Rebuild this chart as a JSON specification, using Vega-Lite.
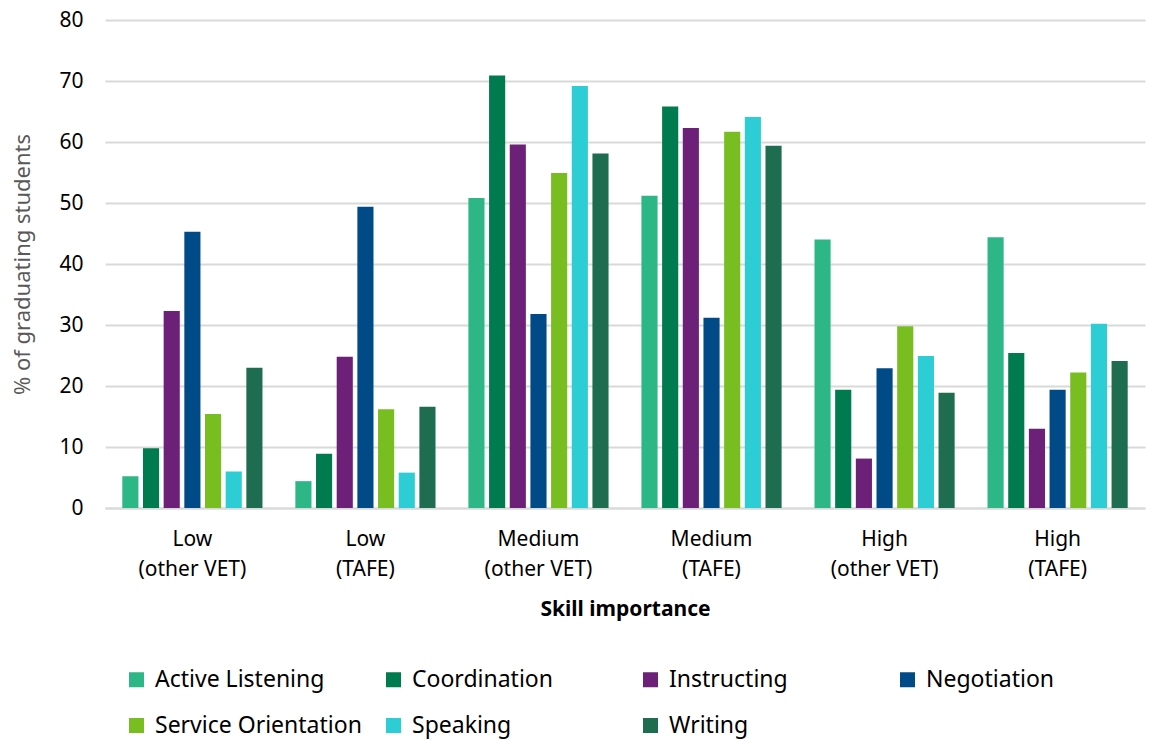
{
  "$schema": "https://vega.github.io/schema/vega-lite/v6.json",
  "width": 1040,
  "height": 488,
  "autosize": {"type": "none"},
  "padding": {"left": 105, "top": 20, "right": 4, "bottom": 232},
  "background": "white",
  "config": {
    "font": "Noto Sans",
    "view": {"stroke": null}
  },
  "data": {
    "values": [
      {"group": "Low|(other VET)", "skill": "Active Listening", "value": 5.2},
      {"group": "Low|(other VET)", "skill": "Coordination", "value": 9.8},
      {"group": "Low|(other VET)", "skill": "Instructing", "value": 32.3},
      {"group": "Low|(other VET)", "skill": "Negotiation", "value": 45.3},
      {"group": "Low|(other VET)", "skill": "Service Orientation", "value": 15.4},
      {"group": "Low|(other VET)", "skill": "Speaking", "value": 6.0},
      {"group": "Low|(other VET)", "skill": "Writing", "value": 23.0},
      {"group": "Low|(TAFE)", "skill": "Active Listening", "value": 4.4},
      {"group": "Low|(TAFE)", "skill": "Coordination", "value": 8.9},
      {"group": "Low|(TAFE)", "skill": "Instructing", "value": 24.8},
      {"group": "Low|(TAFE)", "skill": "Negotiation", "value": 49.4},
      {"group": "Low|(TAFE)", "skill": "Service Orientation", "value": 16.2},
      {"group": "Low|(TAFE)", "skill": "Speaking", "value": 5.8},
      {"group": "Low|(TAFE)", "skill": "Writing", "value": 16.6},
      {"group": "Medium|(other VET)", "skill": "Active Listening", "value": 50.8},
      {"group": "Medium|(other VET)", "skill": "Coordination", "value": 70.9},
      {"group": "Medium|(other VET)", "skill": "Instructing", "value": 59.6},
      {"group": "Medium|(other VET)", "skill": "Negotiation", "value": 31.8},
      {"group": "Medium|(other VET)", "skill": "Service Orientation", "value": 54.9},
      {"group": "Medium|(other VET)", "skill": "Speaking", "value": 69.2},
      {"group": "Medium|(other VET)", "skill": "Writing", "value": 58.1},
      {"group": "Medium|(TAFE)", "skill": "Active Listening", "value": 51.2},
      {"group": "Medium|(TAFE)", "skill": "Coordination", "value": 65.8},
      {"group": "Medium|(TAFE)", "skill": "Instructing", "value": 62.3},
      {"group": "Medium|(TAFE)", "skill": "Negotiation", "value": 31.2},
      {"group": "Medium|(TAFE)", "skill": "Service Orientation", "value": 61.7},
      {"group": "Medium|(TAFE)", "skill": "Speaking", "value": 64.1},
      {"group": "Medium|(TAFE)", "skill": "Writing", "value": 59.4},
      {"group": "High|(other VET)", "skill": "Active Listening", "value": 44.0},
      {"group": "High|(other VET)", "skill": "Coordination", "value": 19.4},
      {"group": "High|(other VET)", "skill": "Instructing", "value": 8.1},
      {"group": "High|(other VET)", "skill": "Negotiation", "value": 22.9},
      {"group": "High|(other VET)", "skill": "Service Orientation", "value": 29.8},
      {"group": "High|(other VET)", "skill": "Speaking", "value": 24.9},
      {"group": "High|(other VET)", "skill": "Writing", "value": 18.9},
      {"group": "High|(TAFE)", "skill": "Active Listening", "value": 44.4},
      {"group": "High|(TAFE)", "skill": "Coordination", "value": 25.4},
      {"group": "High|(TAFE)", "skill": "Instructing", "value": 13.0},
      {"group": "High|(TAFE)", "skill": "Negotiation", "value": 19.4},
      {"group": "High|(TAFE)", "skill": "Service Orientation", "value": 22.2},
      {"group": "High|(TAFE)", "skill": "Speaking", "value": 30.2},
      {"group": "High|(TAFE)", "skill": "Writing", "value": 24.1}
    ]
  },
  "mark": {"type": "bar"},
  "encoding": {
    "x": {
      "field": "group",
      "type": "nominal",
      "sort": null,
      "scale": {"paddingInner": 0.19, "paddingOuter": 0.1},
      "axis": {
        "title": "Skill importance",
        "titleFontSize": 21,
        "titleFontWeight": "bold",
        "titleColor": "black",
        "titlePadding": 19,
        "labelAngle": 0,
        "labelExpr": "split(datum.label, '|')",
        "labelFontSize": 21,
        "labelColor": "black",
        "labelLineHeight": 30,
        "labelPadding": 20,
        "ticks": false,
        "domainColor": "#d9d9d9",
        "domainWidth": 2
      }
    },
    "xOffset": {
      "field": "skill",
      "type": "nominal",
      "scale": {"paddingInner": 0.22, "paddingOuter": 0}
    },
    "y": {
      "field": "value",
      "type": "quantitative",
      "scale": {"domain": [0, 80]},
      "axis": {
        "title": "% of graduating students",
        "titleFontSize": 22,
        "titleFontWeight": "normal",
        "titleColor": "#595959",
        "titlePadding": 24,
        "tickCount": 8,
        "labelFontSize": 21,
        "labelColor": "black",
        "labelPadding": 22,
        "ticks": false,
        "domain": false,
        "gridColor": "#d9d9d9",
        "gridWidth": 2
      }
    },
    "color": {
      "field": "skill",
      "type": "nominal",
      "scale": {
        "domain": ["Active Listening", "Coordination", "Instructing", "Negotiation", "Service Orientation", "Speaking", "Writing"],
        "range": ["#2db787", "#007a4f", "#6d2077", "#004b87", "#78be20", "#2ccdd4", "#1e6d50"]
      },
      "legend": {
        "title": null,
        "orient": "none",
        "legendX": 20,
        "legendY": 648,
        "direction": "horizontal",
        "columns": 4,
        "gridAlign": "all",
        "columnPadding": 20,
        "rowPadding": 22,
        "symbolType": "square",
        "symbolSize": 225,
        "symbolStrokeWidth": 0,
        "labelFontSize": 23,
        "labelColor": "black",
        "labelOffset": 7,
        "labelLimit": 400
      }
    }
  }
}
